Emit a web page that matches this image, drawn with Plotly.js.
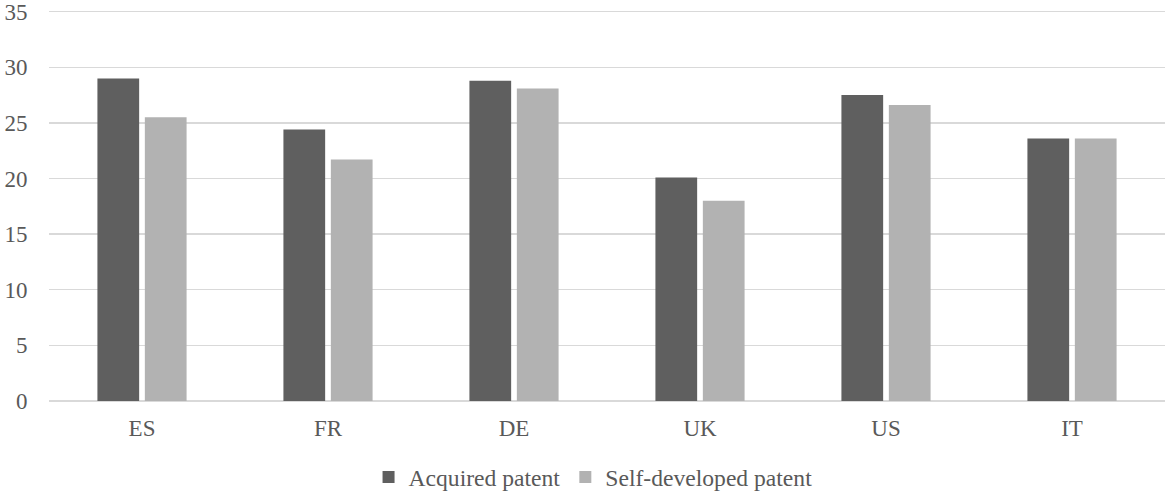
<!DOCTYPE html>
<html>
<head>
<meta charset="utf-8">
<script src="https://cdn.plot.ly/plotly-3.0.1.min.js"></script>
<style>html,body{margin:0;padding:0;background:#fff;}#chart{width:1169px;height:495px;}</style>
</head>
<body>
<div id="chart"></div>
<script>
const categories = ["ES", "FR", "DE", "UK", "US", "IT"];
const acquired = [29.0, 24.4, 28.8, 20.1, 27.5, 23.6];
const selfDeveloped = [25.5, 21.7, 28.1, 18.0, 26.6, 23.6];
const seriesNames = ["Acquired patent", "Self-developed patent"];
const yTicks = [0, 5, 10, 15, 20, 25, 30, 35];

const font = {family: "Liberation Serif, Times New Roman, serif", size: 23, color: "#595959"};
const legendFont = {family: "Liberation Serif, Times New Roman, serif", size: 23.6, color: "#595959"};

const data = [
  {type: "bar", x: categories, y: acquired, name: seriesNames[0],
   marker: {color: "#5f5f5f"}, hoverinfo: "none"},
  {type: "bar", x: categories, y: selfDeveloped, name: seriesNames[1],
   marker: {color: "#b2b2b2"}, hoverinfo: "none"}
];

const layout = {
  width: 1169, height: 495,
  margin: {l: 49, r: 4, t: 10, b: 94, autoexpand: false},
  paper_bgcolor: "#ffffff", plot_bgcolor: "#ffffff",
  font: font,
  barmode: "group",
  bargap: 0.49,
  bargroupgap: 0.12,
  showlegend: true,
  legend: {orientation: "h", x: 0.4875, xanchor: "center", xref: "paper",
           yref: "container", y: 0.036, yanchor: "middle",
           font: legendFont, tracegroupgap: 0},
  xaxis: {
    type: "category", showgrid: false, zeroline: false, showline: false,
    ticks: "outside", ticklen: 6, tickcolor: "rgba(0,0,0,0)",
    tickfont: font, automargin: false
  },
  yaxis: {
    range: [0, 35.15], tickvals: yTicks, ticktext: yTicks.map(String),
    showgrid: true, gridcolor: "#d9d9d9", gridwidth: 1.4,
    zeroline: true, zerolinecolor: "#d9d9d9", zerolinewidth: 1.4,
    showline: false, ticklabeloverflow: "allow",
    ticks: "outside", ticklen: 16, tickcolor: "rgba(0,0,0,0)",
    tickfont: font, automargin: false
  }
};

Plotly.newPlot("chart", data, layout, {displayModeBar: false, staticPlot: true});
</script>
</body>
</html>
